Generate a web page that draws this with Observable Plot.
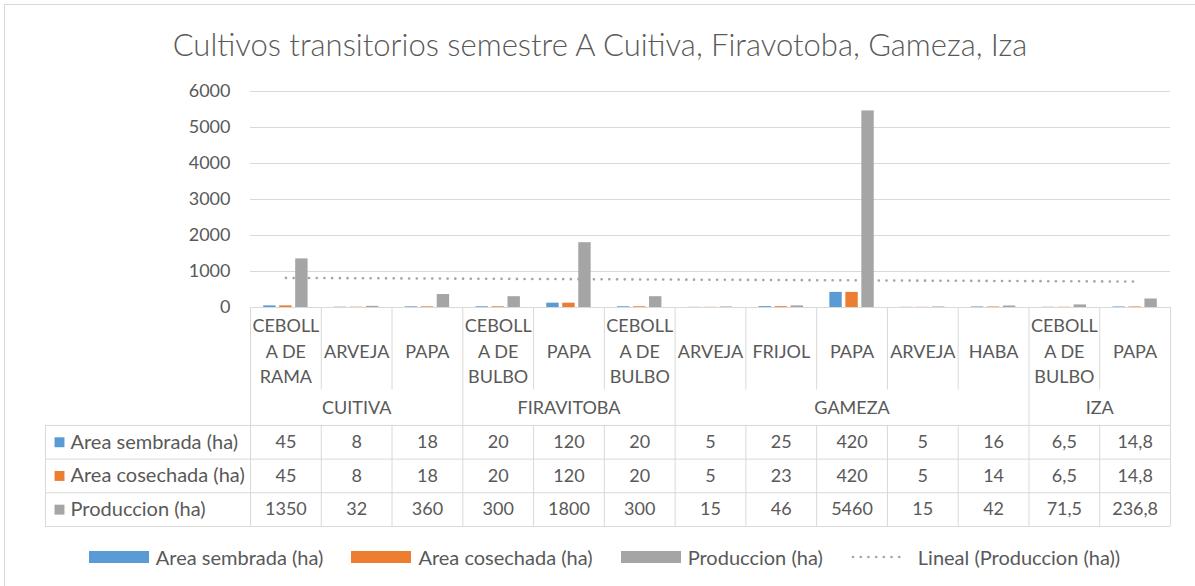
<!DOCTYPE html>
<html><head><meta charset="utf-8">
<script src="https://cdn.jsdelivr.net/npm/d3@7"></script>
<script src="https://cdn.jsdelivr.net/npm/@observablehq/plot@0.6"></script>
<style>
body{margin:0;background:#fff;}
#wrap{position:relative;width:1195px;height:586px;overflow:hidden;font-family:Lato,sans-serif;color:#595959;background:#fff;}
#border{position:absolute;left:4px;top:4px;width:1300px;height:700px;border:1px solid #d9d9d9;}
#title{position:absolute;left:0;top:26px;width:1195px;text-align:center;font-size:31px;font-weight:300;padding-left:5px;box-sizing:border-box;white-space:nowrap;line-height:36px;}
.abs{position:absolute;left:0;}
#legend{position:absolute;left:0;top:545px;width:1195px;height:24px;display:flex;align-items:center;justify-content:center;padding-left:14px;box-sizing:border-box;font-size:20px;white-space:nowrap;}
.item{display:flex;align-items:center;margin-right:28px;}
.item:last-child{margin-right:0;}
.sw{display:inline-block;width:60px;height:12px;margin-right:7px;}
</style></head>
<body><div id="wrap"><div id="border"></div><div id="title"></div><div id="chart" class="abs" style="top:0"></div><div id="table" class="abs" style="top:306px"></div><div id="legend"></div></div>
<script>
// ---- data ----
const titleText = "Cultivos transitorios semestre A Cuitiva, Firavotoba, Gameza, Iza";
const catLabels = ["CEBOLL\nA DE\nRAMA","ARVEJA","PAPA","CEBOLL\nA DE\nBULBO","PAPA","CEBOLL\nA DE\nBULBO","ARVEJA","FRIJOL","PAPA","ARVEJA","HABA","CEBOLL\nA DE\nBULBO","PAPA"];
const districtNames = ["CUITIVA","FIRAVITOBA","GAMEZA","IZA"];
const districtCounts = [3,3,5,2];
const seriesNames = ["Area sembrada (ha)","Area cosechada (ha)","Produccion (ha)"];
const seriesColors = ["#5b9bd5","#ed7d31","#a5a5a5"];
const sembrada  = [45, 8, 18, 20, 120, 20, 5, 25, 420, 5, 16, 6.5, 14.8];
const cosechada = [45, 8, 18, 20, 120, 20, 5, 23, 420, 5, 14, 6.5, 14.8];
const produccion = [1350, 32, 360, 300, 1800, 300, 15, 46, 5460, 15, 42, 71.5, 236.8];
const yTicks = [0,1000,2000,3000,4000,5000,6000];
const trendLabel = "Lineal (Produccion (ha))";

// ---- derived ----
const seriesValues = [sembrada, cosechada, produccion];
const n = catLabels.length;
const colW = (1170 - 250) / n;          // px per category
const pitch = 16 / colW, hw = 6.2 / colW;
const headerLeft = 0.5 - 205 / colW;
const gray = "#595959", lineC = "#d9d9d9";
const fmt = v => String(v).replace(".", ",");

const bars = [];
seriesValues.forEach((arr, s) => arr.forEach((v, i) => bars.push({i: i + 1, s, series: seriesNames[s], value: v})));
const prod = produccion.map((v, i) => ({i: i + 1, value: v}));

document.getElementById("title").textContent = titleText;

const style = {fontFamily: "Lato, sans-serif", fontSize: "18px", color: gray, background: "transparent", overflow: "visible"};

const chart = Plot.plot({
  width: 1195, height: 310,
  marginTop: 91, marginBottom: 3, marginLeft: 250, marginRight: 25,
  style,
  x: {domain: [0.5, n + 0.5], axis: null},
  y: {domain: [0, 6000], axis: null, label: null},
  color: {domain: seriesNames, range: seriesColors},
  marks: [
    Plot.gridY(yTicks, {stroke: lineC, strokeOpacity: 1}),
    Plot.axisY(yTicks, {tickSize: 0, tickPadding: 20, tickFormat: d3.format("d"), fontSize: 18, fill: gray, label: null}),
    Plot.rect(bars, {x1: d => d.i + (d.s - 1) * pitch - hw, x2: d => d.i + (d.s - 1) * pitch + hw, y1: 0, y2: "value", fill: "series"}),
    Plot.linearRegressionY(prod, {x: "i", y: "value", ci: 0, stroke: seriesColors[2], strokeWidth: 2.6, strokeDasharray: "0.1 7.6", strokeLinecap: "round"})
  ]
});
document.getElementById("chart").appendChild(chart);

// ---- table ----
const districtSpans = [];
let start = 1;
districtNames.forEach((d, k) => { districtSpans.push({name: d, a: start, b: start + districtCounts[k] - 1}); start += districtCounts[k]; });
const distBounds = new Set(districtSpans.map(d => d.a - 0.5).concat([n + 0.5]));
const catBounds = d3.range(0.5, n + 1, 1).filter(x => !distBounds.has(x));
const cells = [];
seriesValues.forEach((arr, s) => arr.forEach((v, i) => cells.push({i: i + 1, row: 4 + s, text: fmt(v)})));
const rowsY = [3.5, 4.5, 5.5, 6.5];

const table = Plot.plot({
  width: 1195, height: 222,
  marginTop: 1, marginBottom: 2, marginLeft: 45, marginRight: 25,
  style,
  x: {domain: [headerLeft, n + 0.5], axis: null},
  y: {domain: [0, 6.5], reverse: true, axis: null},
  color: {domain: seriesNames, range: seriesColors},
  marks: [
    Plot.ruleY([0], {x1: 0.5, x2: n + 0.5, stroke: lineC}),
    Plot.ruleY(rowsY, {x1: headerLeft, x2: n + 0.5, stroke: lineC}),
    Plot.ruleX([...distBounds], {y1: 0, y2: 6.5, stroke: lineC}),
    Plot.ruleX(catBounds, {y1: 0, y2: 2.45, stroke: lineC}),
    Plot.ruleX(catBounds, {y1: 3.5, y2: 6.5, stroke: lineC}),
    Plot.ruleX([headerLeft], {y1: 3.5, y2: 6.5, stroke: lineC}),
    Plot.text(catLabels, {x: (d, i) => i + 1, y: 1.25, text: d => d, fontSize: 18, fill: gray, lineHeight: 1.42}),
    Plot.text(districtSpans, {x: d => (d.a + d.b) / 2, y: 3, text: "name", fontSize: 18, fill: gray}),
    Plot.text(cells, {x: "i", y: "row", text: "text", fontSize: 18, fill: gray}),
    Plot.dot(seriesNames, {x: headerLeft, dx: 14, y: (d, s) => 4 + s, symbol: "square", r: 5.6, fill: d => d}),
    Plot.text(seriesNames, {x: headerLeft, dx: 25, y: (d, s) => 4 + s, text: d => d, textAnchor: "start", fontSize: 20, fill: gray})
  ]
});
document.getElementById("table").appendChild(table);

// ---- legend ----
const legend = document.getElementById("legend");
seriesNames.forEach((name, s) => {
  const it = document.createElement("div"); it.className = "item";
  const sw = document.createElement("span"); sw.className = "sw"; sw.style.background = seriesColors[s];
  const t = document.createElement("span"); t.textContent = name;
  it.appendChild(sw); it.appendChild(t); legend.appendChild(it);
});
{
  const it = document.createElement("div"); it.className = "item";
  it.innerHTML = `<svg width="55" height="12" style="margin-right:12px"><line x1="2" x2="54" y1="6" y2="6" stroke="${seriesColors[2]}" stroke-width="2.6" stroke-dasharray="0.1 7.6" stroke-linecap="round"/></svg>`;
  const t = document.createElement("span"); t.textContent = trendLabel;
  it.appendChild(t); legend.appendChild(it);
}
</script>
</body></html>
